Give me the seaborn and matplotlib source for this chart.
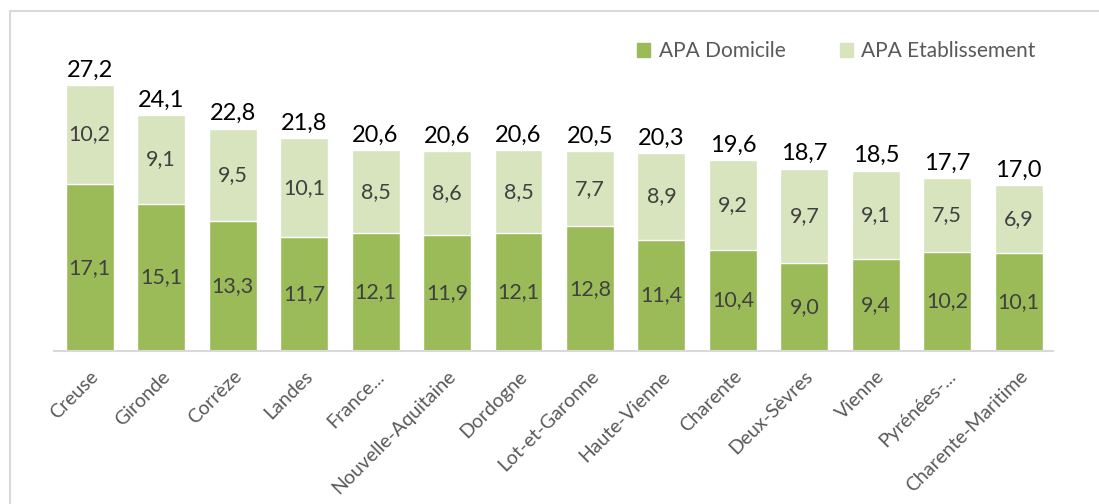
import numpy as np
import pandas as pd
import seaborn as sns
import matplotlib.pyplot as plt
from matplotlib.patches import Patch, Rectangle

## Data
departements = ["Creuse", "Gironde", "Corrèze", "Landes", "France...", "Nouvelle-Aquitaine",
                "Dordogne", "Lot-et-Garonne", "Haute-Vienne", "Charente", "Deux-Sèvres",
                "Vienne", "Pyrénées-...", "Charente-Maritime"]
apa_domicile = [17.1, 15.1, 13.3, 11.7, 12.1, 11.9, 12.1, 12.8, 11.4, 10.4, 9.0, 9.4, 10.2, 10.1]
apa_etab = [10.2, 9.1, 9.5, 10.1, 8.5, 8.6, 8.5, 7.7, 8.9, 9.2, 9.7, 9.1, 7.5, 6.9]
totaux = [27.2, 24.1, 22.8, 21.8, 20.6, 20.6, 20.6, 20.5, 20.3, 19.6, 18.7, 18.5, 17.7, 17.0]

col_dom = "#9BBB59"
col_etab = "#D7E4BD"

df = pd.DataFrame({"dep": departements, "dom": apa_domicile, "etab": apa_etab, "total": totaux})
df["cumul"] = df["dom"] + df["etab"]

sns.set_style("white")
plt.rcParams["font.family"] = ["Lato", "DejaVu Sans"]

fig = plt.figure(figsize=(10.99, 5.04), dpi=100)
ax = fig.add_axes([54 / 1099, 1 - 351 / 504, (1053 - 54) / 1099, (351 - 40) / 504])

# Stacked bars: full height first, then domicile on top
sns.barplot(data=df, x="dep", y="cumul", color=col_etab, width=0.67, saturation=1, ax=ax)
sns.barplot(data=df, x="dep", y="dom", color=col_dom, width=0.67, saturation=1, ax=ax)

ax.set_xlim(-0.5, 13.48)
ax.set_ylim(0, 31.9)
ax.set_xlabel("")
ax.set_ylabel("")
ax.set_yticks([])
for s in ["top", "right", "left"]:
    ax.spines[s].set_visible(False)
ax.spines["bottom"].set_color("#D9D9D9")
ax.spines["bottom"].set_linewidth(1.5)

# Labels
def fr(v):
    return f"{v:.1f}".replace(".", ",")

for i, row in df.iterrows():
    ax.text(i, row["dom"] / 2, fr(row["dom"]), ha="center", va="center", fontsize=15.5, color="#404040")
    ax.text(i, row["dom"] + row["etab"] / 2, fr(row["etab"]), ha="center", va="center", fontsize=15.5, color="#404040")
    ax.text(i, row["cumul"] + 0.45, fr(row["total"]), ha="center", va="bottom", fontsize=17, color="black")

ax.tick_params(axis="x", length=0, pad=12)
ax.set_xticks(range(len(departements)))
ax.set_xticklabels(departements, rotation=45, ha="right", rotation_mode="anchor", fontsize=14, color="#595959")

# Legend
handles = [Patch(color=col_dom, label="APA Domicile"), Patch(color=col_etab, label="APA Etablissement")]
fig.legend(handles=handles, loc="center left", bbox_to_anchor=(618 / 1099, 1 - 51 / 504), ncol=2,
           frameon=False, fontsize=15, labelcolor="#595959", handlelength=0.65, handleheight=0.65,
           handletextpad=0.4, columnspacing=2.6)

# Chart frame
fig.patches.append(Rectangle((10 / 1099, -0.1), 1.2, 1.1 - 11 / 504, transform=fig.transFigure,
                             fill=False, edgecolor="#D9D9D9", linewidth=1.5))

plt.savefig("out.png", dpi=100)
